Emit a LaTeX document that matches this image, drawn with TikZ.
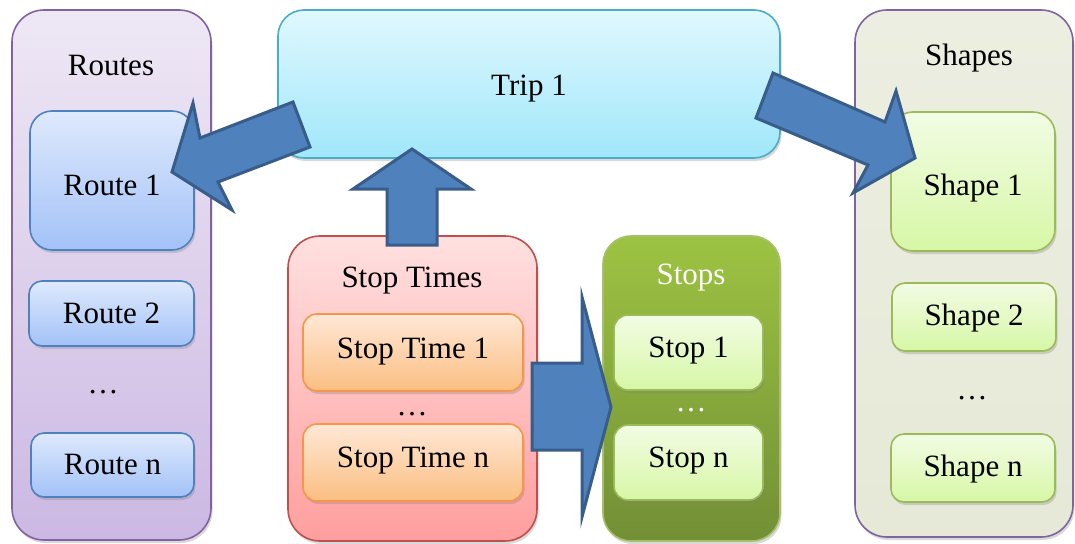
\documentclass[tikz,border=0pt]{standalone}
\usepackage{fontspec}
\setmainfont{Liberation Serif}
\usetikzlibrary{shadows}

\definecolor{routesTop}{HTML}{EEE8F5}
\definecolor{routesBot}{HTML}{CCB8E3}
\definecolor{purpleLine}{HTML}{8064A2}
\definecolor{routeTop}{HTML}{DEE9FC}
\definecolor{routeBot}{HTML}{A3C2F8}
\definecolor{routeLine}{HTML}{4F81BD}
\definecolor{tripTop}{HTML}{E0F8FE}
\definecolor{tripBot}{HTML}{A0E7FA}
\definecolor{tripLine}{HTML}{4BACC6}
\definecolor{shapesTop}{HTML}{ECEEE1}
\definecolor{shapesBot}{HTML}{E6E9D7}
\definecolor{greenTop}{HTML}{F2FCE4}
\definecolor{greenBot}{HTML}{D7F7A6}
\definecolor{greenLine}{HTML}{9BBB59}
\definecolor{timesTop}{HTML}{FFE0E0}
\definecolor{timesBot}{HTML}{FF9E9E}
\definecolor{timesLine}{HTML}{C0504D}
\definecolor{timeTop}{HTML}{FFE8D6}
\definecolor{timeBot}{HTML}{FBBE82}
\definecolor{timeLine}{HTML}{F79646}
\definecolor{stopsTop}{HTML}{9DC342}
\definecolor{stopsBot}{HTML}{728F36}
\definecolor{arrowFill}{HTML}{4F81BD}
\definecolor{arrowLine}{HTML}{385D8A}

\tikzset{
  shade/.style={drop shadow={shadow xshift=1.5pt, shadow yshift=-3pt, opacity=0.3}},
  panel/.style={draw, line width=1.6pt, rounded corners=32pt, shade},
  % lift=<h>: the text baseline sits h/2 below the box centre
  lift/.style={text height=#1, text depth=0pt},
  item/.style={draw, line width=1.6pt, shade, font=\fontsize{31}{37}\selectfont},
  label/.style={font=\fontsize{31}{37}\selectfont, anchor=base, inner sep=0pt},
  dotsnode/.style={font=\fontsize{31}{37}\selectfont, inner sep=0pt, anchor=base},
  routesbox/.style={panel, draw=purpleLine, top color=routesTop, bottom color=routesBot},
  routebox/.style={item, draw=routeLine, top color=routeTop, bottom color=routeBot},
  tripbox/.style={item, draw=tripLine, top color=tripTop, bottom color=tripBot, rounded corners=26pt},
  shapesbox/.style={panel, draw=purpleLine, top color=shapesTop, bottom color=shapesBot},
  shapebox/.style={item, draw=greenLine, top color=greenTop, bottom color=greenBot},
  timesbox/.style={panel, draw=timesLine, top color=timesTop, bottom color=timesBot},
  timebox/.style={item, draw=timeLine, top color=timeTop, bottom color=timeBot, rounded corners=14pt},
  stopsbox/.style={panel, draw=greenLine!90!white, top color=stopsTop, bottom color=stopsBot, rounded corners=28pt},
  stopbox/.style={item, draw=greenLine, top color=greenTop, bottom color=greenBot, rounded corners=14pt},
  blockarrow/.style={fill=arrowFill, draw=arrowLine, line width=3pt, line join=miter}
}

\begin{document}
\begin{tikzpicture}[x=1pt, y=-1pt]
\useasboundingbox (0,0) rectangle (1075,543);

% Routes panel
\node[routesbox, minimum width=199pt, minimum height=530pt] (routes) at (111.5,275) {};
\node[label] (routesT) at (111,75) {Routes};
\node[routebox, lift=29pt, rounded corners=22pt, minimum width=164pt, minimum height=139pt] (route1) at (112,180.5) {Route 1};
\node[routebox, lift=19pt, rounded corners=13pt, minimum width=165pt, minimum height=65pt] (route2) at (111.5,313.5) {Route 2};
\node[dotsnode] (routesdots) at (103,393) {…};
\node[routebox, lift=18pt, rounded corners=13pt, minimum width=163pt, minimum height=64pt] (routeN) at (112.5,465) {Route n};

% Trip
\node[tripbox, lift=22pt, minimum width=502pt, minimum height=148pt] (trip) at (529,84) {Trip 1};

% Shapes panel
\node[shapesbox, minimum width=218pt, minimum height=527pt] (shapes) at (964,273.5) {};
\node[label] (shapesT) at (969,65) {Shapes};
\node[shapebox, lift=27pt, rounded corners=22pt, minimum width=164pt, minimum height=139pt] (shape1) at (973,181.5) {Shape 1};
\node[shapebox, lift=16pt, rounded corners=13pt, minimum width=164pt, minimum height=68pt] (shape2) at (974,317) {Shape 2};
\node[dotsnode] (shapesdots) at (972,399) {…};
\node[shapebox, lift=16pt, rounded corners=13pt, minimum width=164pt, minimum height=68pt] (shapeN) at (973,468) {Shape n};

% Stop Times panel
\node[timesbox, minimum width=249pt, minimum height=305pt] (times) at (412.5,388.5) {};
\node[label] (timesT) at (412,287) {Stop Times};
\node[timebox, lift=11pt, minimum width=220pt, minimum height=77pt] (time1) at (413,352.5) {Stop Time 1};
\node[dotsnode] (timesdots) at (412,415) {…};
\node[timebox, lift=9pt, minimum width=220pt, minimum height=77pt] (timeN) at (413,462.5) {Stop Time n};

% Stops panel
\node[stopsbox, minimum width=177pt, minimum height=305pt] (stops) at (691.5,388.5) {};
\node[label, text=white] (stopsT) at (691,284) {Stops};
\node[stopbox, lift=9pt, minimum width=149pt, minimum height=75pt] (stop1) at (688.5,352.5) {Stop 1};
\node[dotsnode, text=white] (stopsdots) at (691,411) {…};
\node[stopbox, lift=9pt, minimum width=149pt, minimum height=75pt] (stopN) at (688.5,462.5) {Stop n};

% Block arrows
% Trip 1 -> Route 1
\draw[blockarrow] (293,102) -- (310,147) -- (218,182) -- (232,210) -- (172,172)
  -- (193,103) -- (200,138) -- cycle;
% Trip 1 -> Shape 1
\draw[blockarrow] (773,73) -- (885,122) -- (896,91) -- (915,158) -- (853,193)
  -- (868,165) -- (756,118) -- cycle;
% Stop Times -> Trip 1
\draw[blockarrow] (387,245) -- (387,189) -- (353,189) -- (412,149) -- (471,189)
  -- (437,189) -- (437,245) -- cycle;
% Stop Times -> Stops
\draw[blockarrow] (532,363) -- (582,363) -- (582,297) -- (611,407) -- (582,517)
  -- (582,450) -- (532,450) -- cycle;
\end{tikzpicture}
\end{document}
